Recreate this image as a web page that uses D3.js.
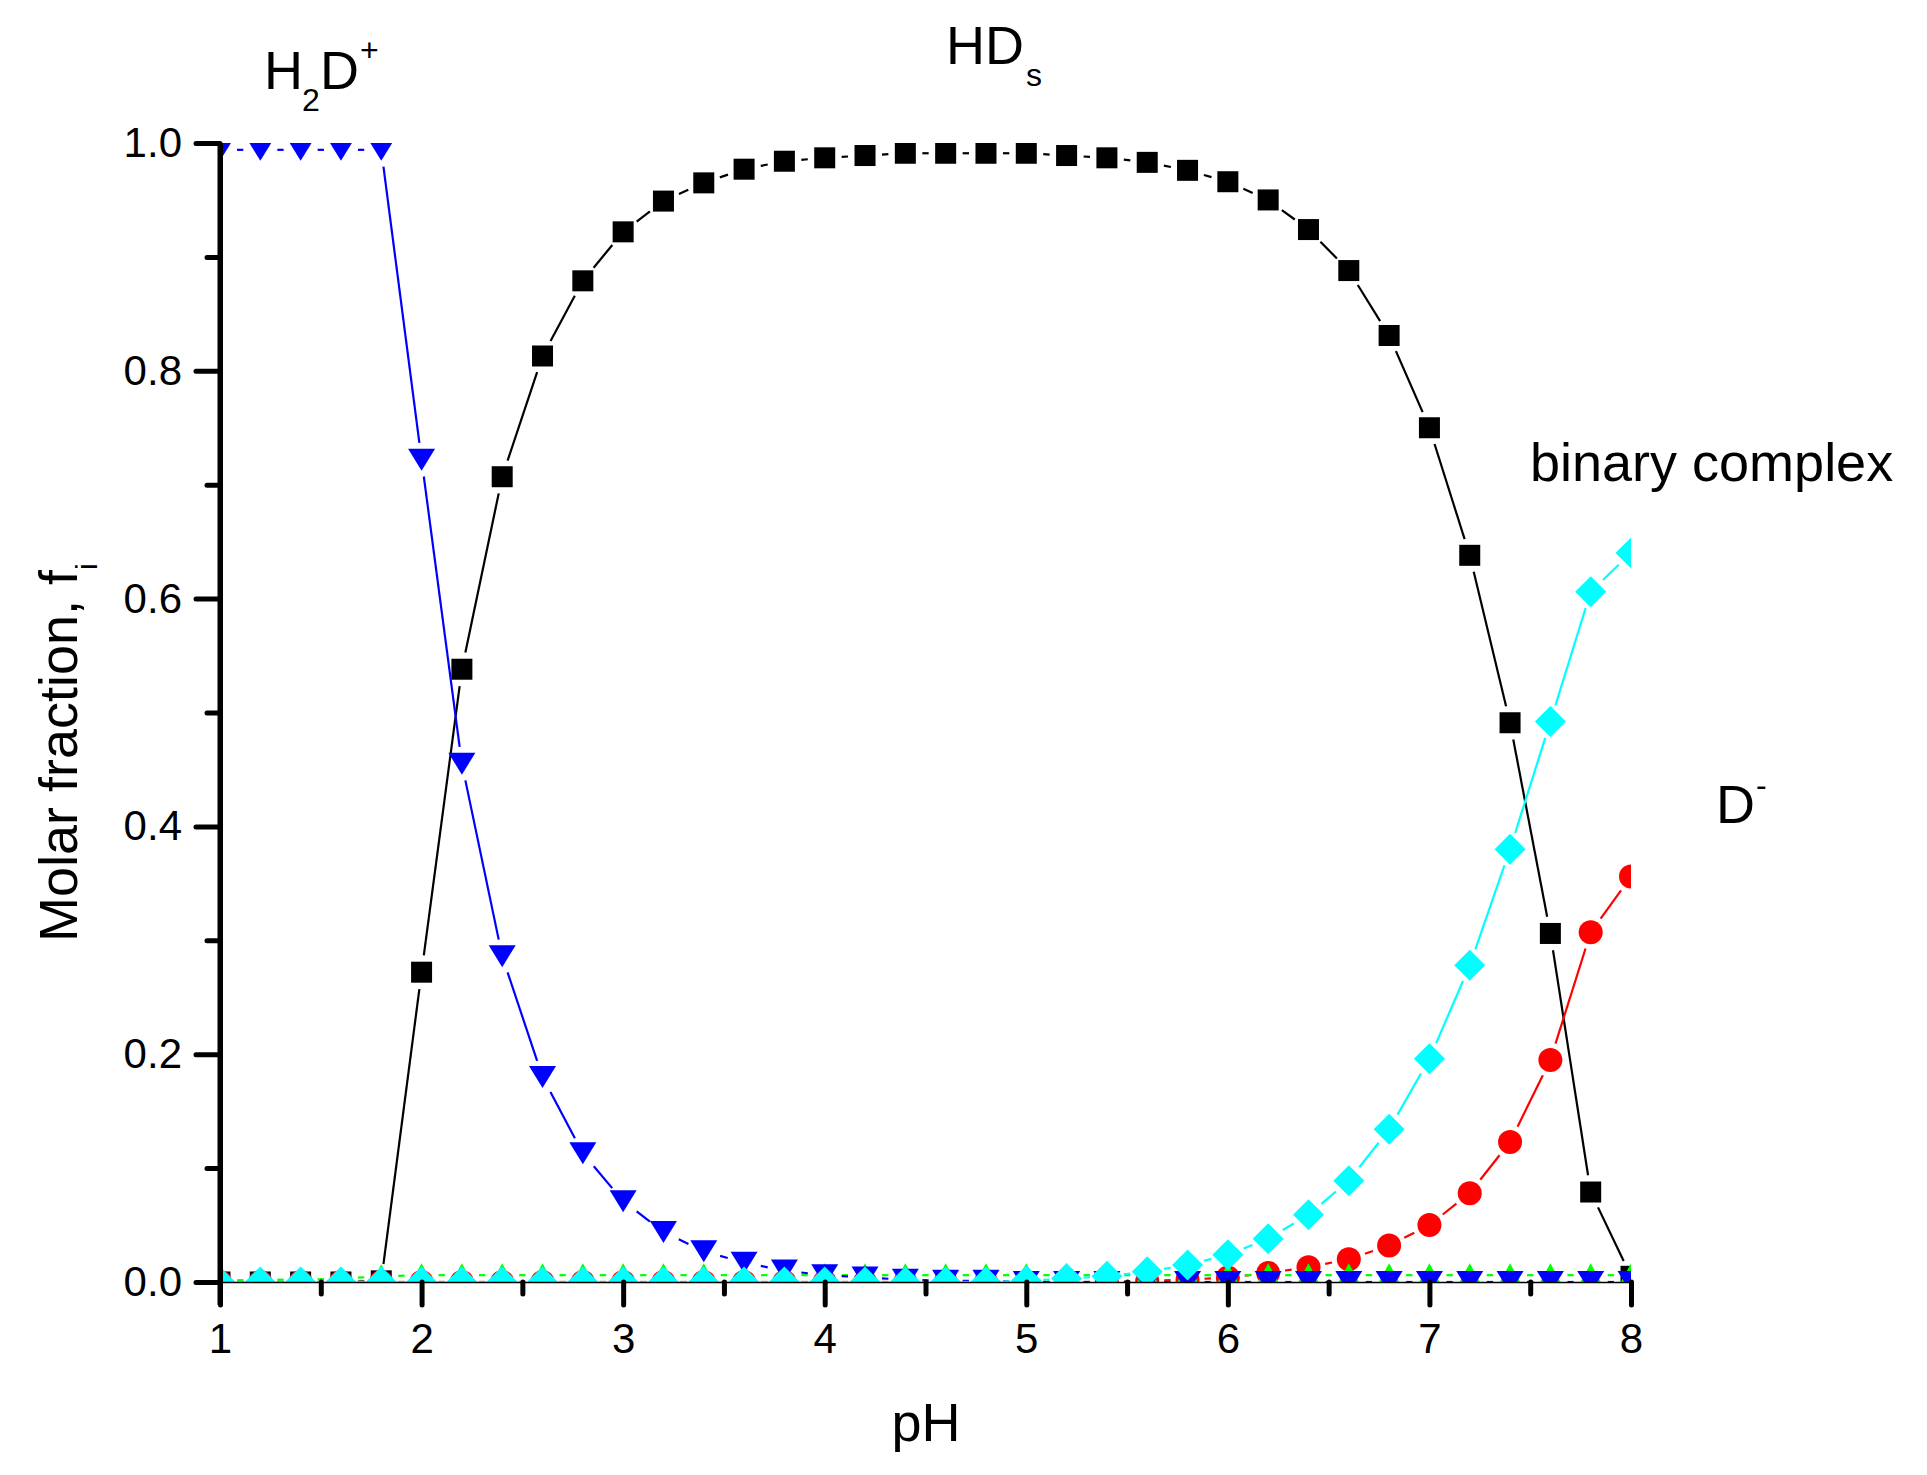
<!DOCTYPE html>
<html>
<head>
<meta charset="utf-8">
<script src="https://cdn.jsdelivr.net/npm/d3@7"></script>
<style>
  body { margin: 0; background: #fff; }
  text { font-family: "Liberation Sans", Arial, sans-serif; fill: #000; }
</style>
</head>
<body>
<div id="container"></div>
<script>
// pH steps
const pH = [1.0, 1.2, 1.4, 1.6, 1.8, 2.0, 2.2, 2.4, 2.6, 2.8,
            3.0, 3.2, 3.4, 3.6, 3.8, 4.0, 4.2, 4.4, 4.6, 4.8,
            5.0, 5.2, 5.4, 5.6, 5.8, 6.0, 6.2, 6.4, 6.6, 6.8,
            7.0, 7.2, 7.4, 7.6, 7.8, 8.0];

// molar fractions
const hds = [0, 0, 0, 0, 0.001, 0.272, 0.538, 0.707, 0.813, 0.879,
             0.922, 0.949, 0.965, 0.977, 0.984, 0.987, 0.989, 0.991, 0.991, 0.991,
             0.991, 0.989, 0.987, 0.983, 0.976, 0.966, 0.950, 0.924, 0.888, 0.831,
             0.750, 0.638, 0.491, 0.306, 0.079, 0.005];
const dMinus = [0, 0, 0, 0, 0, 0, 0, 0, 0, 0,
                0, 0, 0, 0, 0, 0, 0, 0, 0, 0,
                0, 0, 0, 0.001, 0.002, 0.004, 0.008, 0.013, 0.020, 0.032,
                0.050, 0.078, 0.123, 0.195, 0.307, 0.356];
const h2d = [0.994, 0.994, 0.994, 0.994, 0.994, 0.722, 0.455, 0.286, 0.180, 0.113,
             0.071, 0.044, 0.027, 0.017, 0.010, 0.006, 0.004, 0.002, 0.001, 0.001,
             0, 0, 0, 0, 0, 0, 0, 0, 0, 0,
             0, 0, 0, 0, 0, 0];
const green = [0.001, 0.002, 0.002, 0.003, 0.005, 0.006, 0.006, 0.006, 0.006, 0.006,
               0.006, 0.006, 0.006, 0.006, 0.006, 0.006, 0.006, 0.006, 0.006, 0.006,
               0.006, 0.006, 0.006, 0.006, 0.006, 0.006, 0.006, 0.006, 0.006, 0.006,
               0.006, 0.006, 0.006, 0.006, 0.006, 0.006];
const binary = [0, 0, 0, 0, 0, 0, 0, 0, 0, 0,
                0, 0, 0, 0, 0, 0, 0, 0, 0, 0,
                0.001, 0.003, 0.005, 0.009, 0.015, 0.024, 0.038, 0.059, 0.089, 0.134,
                0.196, 0.278, 0.380, 0.492, 0.606, 0.640];

const xTicks = [1, 2, 3, 4, 5, 6, 7, 8];
const yTicks = [0.0, 0.2, 0.4, 0.6, 0.8, 1.0];

const W = 1927, H = 1475;
const mLeft = 220, mRight = 1631, mTop = 143, mBottom = 1282;

let svg = d3.select('#container')
    .append('svg')
    .attr('width', W)
    .attr('height', H);

let x = d3.scaleLinear().domain([1, 8]).range([mLeft, mRight]);
let y = d3.scaleLinear().domain([0, 1]).range([mBottom, mTop]);

svg.append('defs').append('clipPath')
    .attr('id', 'plotclip')
    .append('rect')
    .attr('x', mLeft)
    .attr('y', mTop)
    .attr('width', mRight - mLeft)
    .attr('height', mBottom - mTop);

let plot = svg.append('g').attr('clip-path', 'url(#plotclip)');

// marker shapes
function square(g) {
    g.append('rect').attr('x', -10.5).attr('y', -10.5).attr('width', 21).attr('height', 21);
}
function circle(g) {
    g.append('circle').attr('r', 12);
}
function triDown(g) {
    g.append('path').attr('d', 'M-13.5,-11L13.5,-11L0,11Z');
}
function triUp(g) {
    g.append('path').attr('d', 'M0,-12L13,12L-13,12Z');
}
function diamond(g) {
    g.append('path').attr('d', 'M0,-15.5L15.5,0L0,15.5L-15.5,0Z');
}

// plotting order as in the original
const series = [
    { vals: hds, color: '#000000', shape: square },
    { vals: dMinus, color: '#ff0000', shape: circle },
    { vals: green, color: '#00ff00', shape: triUp },
    { vals: h2d, color: '#0000ff', shape: triDown },
    { vals: binary, color: '#00ffff', shape: diamond }
];

const gap = 17;

series.forEach(function (s) {
    let pts = pH.map(function (p, i) { return [x(p), y(s.vals[i])]; });
    let segs = [];
    for (let i = 0; i < pts.length - 1; i++) {
        let a = pts[i], b = pts[i + 1];
        let dx = b[0] - a[0], dy = b[1] - a[1];
        let len = Math.sqrt(dx * dx + dy * dy);
        if (len <= 2 * gap) continue;
        let ux = dx / len, uy = dy / len;
        segs.push([a[0] + ux * gap, a[1] + uy * gap, b[0] - ux * gap, b[1] - uy * gap]);
    }
    let g = plot.append('g');
    g.selectAll('line')
        .data(segs)
        .enter().append('line')
        .attr('x1', function (d) { return d[0]; })
        .attr('y1', function (d) { return d[1]; })
        .attr('x2', function (d) { return d[2]; })
        .attr('y2', function (d) { return d[3]; })
        .attr('stroke', s.color)
        .attr('stroke-width', 2.2);

    g.selectAll('g.mk')
        .data(pts)
        .enter().append('g')
        .attr('class', 'mk')
        .attr('transform', function (d) { return 'translate(' + d[0] + ',' + d[1] + ')'; })
        .attr('fill', s.color)
        .each(function () { s.shape(d3.select(this)); });
});

// axes
let xAxis = svg.append('g')
    .attr('transform', 'translate(0,' + mBottom + ')')
    .call(d3.axisBottom(x).tickValues(xTicks).tickFormat(d3.format('d'))
        .tickSize(23).tickSizeOuter(0).tickPadding(18));
xAxis.select('.domain').attr('stroke-width', 1.6);
xAxis.selectAll('.tick line').attr('stroke-width', 5).attr('stroke-linecap', 'round');
xAxis.selectAll('text').attr('font-size', 42).style('font-family', '"Liberation Sans", Arial, sans-serif');

let xMinor = svg.append('g')
    .attr('transform', 'translate(0,' + mBottom + ')')
    .call(d3.axisBottom(x).tickValues(xTicks.slice(0, -1).map(function (d) { return d + 0.5; }))
        .tickSize(12).tickSizeOuter(0).tickFormat(''));
xMinor.select('.domain').remove();
xMinor.selectAll('.tick line').attr('stroke-width', 5).attr('stroke-linecap', 'round');

let yAxis = svg.append('g')
    .attr('transform', 'translate(' + mLeft + ',0)')
    .call(d3.axisLeft(y).tickValues(yTicks).tickFormat(d3.format('.1f'))
        .tickSize(24).tickSizeOuter(0).tickPadding(14));
yAxis.select('.domain').attr('stroke-width', 5);
yAxis.selectAll('.tick line').attr('stroke-width', 5).attr('stroke-linecap', 'round');
yAxis.selectAll('text').attr('font-size', 42).style('font-family', '"Liberation Sans", Arial, sans-serif');

let yMinor = svg.append('g')
    .attr('transform', 'translate(' + mLeft + ',0)')
    .call(d3.axisLeft(y).tickValues(yTicks.slice(0, -1).map(function (d) { return d + 0.1; }))
        .tickSize(13).tickSizeOuter(0).tickFormat(''));
yMinor.select('.domain').remove();
yMinor.selectAll('.tick line').attr('stroke-width', 5).attr('stroke-linecap', 'round');

// y axis line running down over the x=1 tick
svg.append('line')
    .attr('x1', mLeft).attr('x2', mLeft)
    .attr('y1', mTop).attr('y2', mBottom + 23)
    .attr('stroke', '#000').attr('stroke-width', 5);

// axis titles
svg.append('text')
    .attr('x', 926).attr('y', 1441)
    .attr('text-anchor', 'middle')
    .attr('font-size', 54)
    .text('pH');

let yt = svg.append('text')
    .attr('transform', 'translate(77,942) rotate(-90)')
    .attr('font-size', 54);
yt.append('tspan').text('Molar fraction, f');
yt.append('tspan').attr('font-size', 30).attr('dy', 20).text('i');

// species labels
function label(parts) {
    parts.forEach(function (p) {
        svg.append('text')
            .attr('x', p[1]).attr('y', p[2])
            .attr('font-size', p[3])
            .text(p[0]);
    });
}
label([['H', 264, 89, 54], ['2', 302, 111, 32], ['D', 320, 89, 54], ['+', 360, 61, 32]]);
label([['HD', 946, 64, 54], ['s', 1026, 86, 32]]);
label([['binary complex', 1530, 481, 54]]);
label([['D', 1716, 823, 54], ['-', 1756, 796, 32]]);
</script>
</body>
</html>
